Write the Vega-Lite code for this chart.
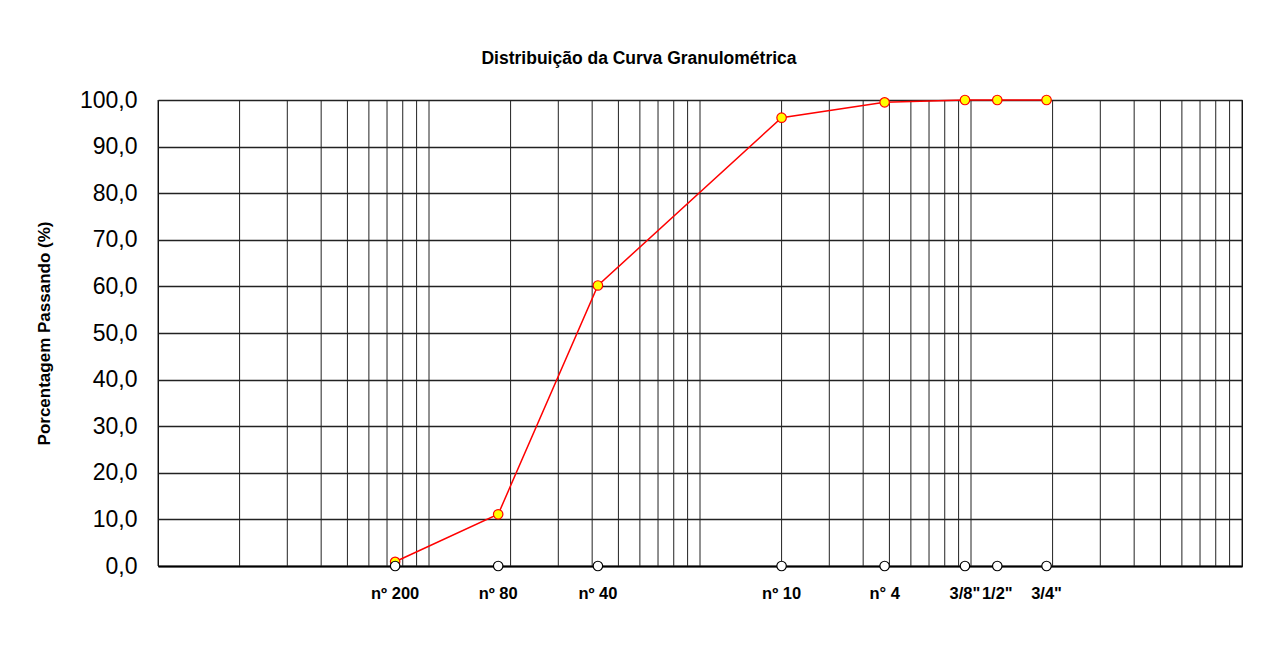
{
  "$schema": "https://vega.github.io/schema/vega-lite/v6.json",
  "autosize": "none",
  "width": 1084,
  "height": 466,
  "padding": {"left": 158, "top": 100, "right": 21, "bottom": 90},
  "background": "white",
  "title": {
    "text": "Distribuição da Curva Granulométrica",
    "font": "Liberation Sans",
    "fontSize": 17.5,
    "fontWeight": "bold",
    "color": "black",
    "anchor": "middle",
    "frame": "group",
    "dx": -61,
    "offset": 22
  },
  "config": {
    "view": {"stroke": "black", "strokeWidth": 1},
    "font": "Liberation Sans"
  },
  "datasets": {
    "grid": [
      {"d": 0.01}, {"d": 0.02}, {"d": 0.03}, {"d": 0.04}, {"d": 0.05}, {"d": 0.06}, {"d": 0.07}, {"d": 0.08}, {"d": 0.09},
      {"d": 0.1}, {"d": 0.2}, {"d": 0.3}, {"d": 0.4}, {"d": 0.5}, {"d": 0.6}, {"d": 0.7}, {"d": 0.8}, {"d": 0.9},
      {"d": 1}, {"d": 2}, {"d": 3}, {"d": 4}, {"d": 5}, {"d": 6}, {"d": 7}, {"d": 8}, {"d": 9},
      {"d": 10}, {"d": 20}, {"d": 30}, {"d": 40}, {"d": 50}, {"d": 60}, {"d": 70}, {"d": 80}, {"d": 90},
      {"d": 100}
    ],
    "sieves": [
      {"label": "nº 200", "d": 0.075, "p": 0.9},
      {"label": "nº 80", "d": 0.18, "p": 11.1},
      {"label": "nº 40", "d": 0.42, "p": 60.2},
      {"label": "nº 10", "d": 2.0, "p": 96.2},
      {"label": "n° 4", "d": 4.8, "p": 99.5},
      {"label": "3/8\"", "d": 9.5, "p": 100},
      {"label": "1/2\"", "d": 12.5, "p": 100},
      {"label": "3/4\"", "d": 19.0, "p": 100}
    ]
  },
  "encoding": {
    "x": {
      "field": "d",
      "type": "quantitative",
      "scale": {"type": "log", "domain": [0.01, 100], "nice": false},
      "axis": {
        "labels": false,
        "ticks": false,
        "grid": false,
        "title": null,
        "domainColor": "black",
        "domainWidth": 2
      }
    }
  },
  "layer": [
    {
      "data": {"name": "grid"},
      "mark": {"type": "rule", "color": "#222222", "strokeWidth": 1},
      "encoding": {
        "y": {
          "datum": 0,
          "type": "quantitative",
          "scale": {"domain": [0, 100], "nice": false},
          "axis": {
            "values": [0, 10, 20, 30, 40, 50, 60, 70, 80, 90, 100],
            "labelExpr": "replace(format(datum.value, '.1f'), '.', ',')",
            "labelFont": "Liberation Sans",
            "labelFontSize": 23,
            "labelColor": "black",
            "labelPadding": 21,
            "ticks": false,
            "domain": false,
            "grid": true,
            "gridColor": "#222222",
            "gridWidth": 1.5,
            "gridOpacity": 1,
            "title": "Porcentagem Passando (%)",
            "titleFont": "Liberation Sans",
            "titleFontSize": 17,
            "titleFontWeight": "bold",
            "titleColor": "black",
            "titlePadding": 26
          }
        },
        "y2": {"datum": 100}
      }
    },
    {
      "data": {"name": "sieves"},
      "mark": {"type": "line", "color": "#FF0000", "strokeWidth": 1.5},
      "encoding": {
        "y": {"field": "p", "type": "quantitative"}
      }
    },
    {
      "data": {"name": "sieves"},
      "mark": {"type": "point", "shape": "circle", "filled": true, "fill": "#FFFF00", "stroke": "#FF0000", "strokeWidth": 1.2, "size": 90, "opacity": 1},
      "encoding": {
        "y": {"field": "p", "type": "quantitative"}
      }
    },
    {
      "data": {"name": "sieves"},
      "mark": {"type": "point", "shape": "circle", "filled": true, "fill": "white", "stroke": "black", "strokeWidth": 1.2, "size": 90, "opacity": 1},
      "encoding": {
        "y": {"datum": 0, "type": "quantitative"}
      }
    },
    {
      "data": {"name": "sieves"},
      "mark": {"type": "text", "font": "Liberation Sans", "fontSize": 16.5, "fontWeight": "bold", "color": "black", "baseline": "middle", "align": "center", "dy": 28},
      "encoding": {
        "y": {"datum": 0, "type": "quantitative"},
        "text": {"field": "label"}
      }
    }
  ]
}
